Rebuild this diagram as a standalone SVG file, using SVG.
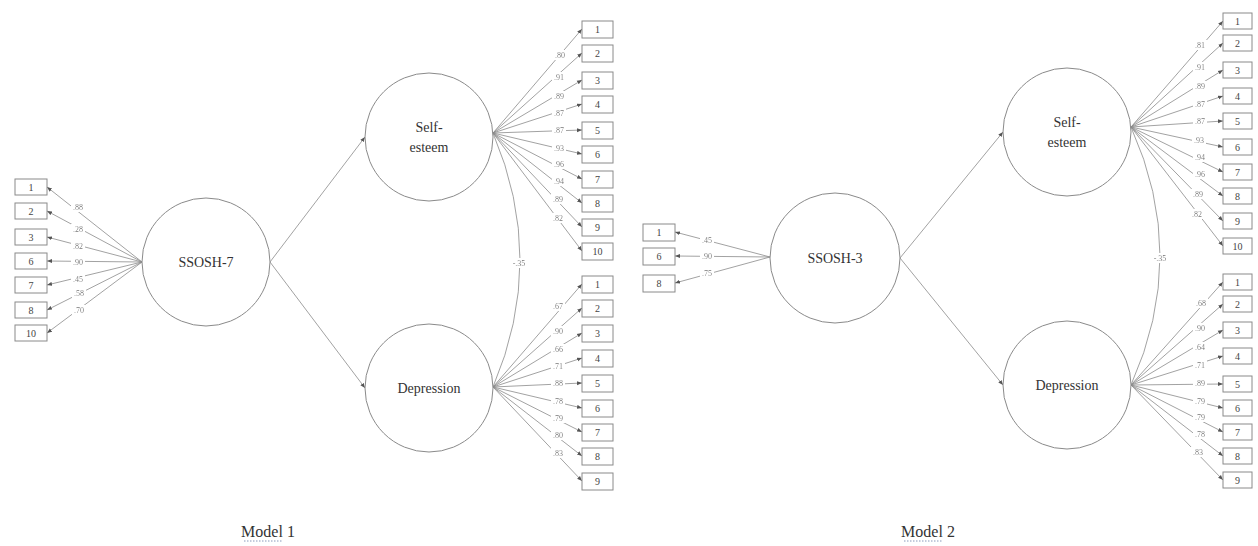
<svg xmlns="http://www.w3.org/2000/svg" width="1258" height="546" viewBox="0 0 1258 546">
<defs>
<marker id="ah" viewBox="0 0 10 10" refX="10" refY="5" markerWidth="5" markerHeight="5" orient="auto" markerUnits="userSpaceOnUse">
<path d="M0,1 L10,5 L0,9 z" fill="#555"/>
</marker>
<filter id="bg" x="-0.15" y="-0.05" width="1.3" height="1.1">
<feFlood flood-color="#ffffff"/>
<feComposite in="SourceGraphic" operator="over"/>
</filter>
<style>
.box{fill:#fff;stroke:#8a8a8a;stroke-width:1}
.lat{fill:#fff;stroke:#8a8a8a;stroke-width:1}
.ln{fill:none;stroke:#8a8a8a;stroke-width:0.8;marker-end:url(#ah)}
.arc{fill:none;stroke:#8a8a8a;stroke-width:0.8}
.lbl{font-family:"Liberation Serif",serif;font-size:8px;fill:#555;text-anchor:middle;dominant-baseline:central;filter:url(#bg)}
.num{font-family:"Liberation Serif",serif;font-size:10px;fill:#444;text-anchor:middle;dominant-baseline:central}
.name{font-family:"Liberation Serif",serif;font-size:14px;fill:#333;text-anchor:middle;dominant-baseline:central}
.cap{font-family:"Liberation Serif",serif;font-size:16px;fill:#333;text-anchor:middle}
.sq{stroke:#8899bb;stroke-width:1;stroke-dasharray:1.5 1.5}
</style>
</defs>

<g id="connectors">
<path class="ln" d="M270,262 L365,137"/>
<path class="ln" d="M270,262 L365,388"/>
<path class="ln" d="M142,262 L47,187"/>
<path class="ln" d="M142,262 L47,211"/>
<path class="ln" d="M142,262 L47,237"/>
<path class="ln" d="M142,262 L47,261"/>
<path class="ln" d="M142,262 L47,285"/>
<path class="ln" d="M142,262 L47,310"/>
<path class="ln" d="M142,262 L47,333"/>
<path class="ln" d="M493,133 L582,29"/>
<path class="ln" d="M493,133 L582,53"/>
<path class="ln" d="M493,133 L582,80"/>
<path class="ln" d="M493,133 L582,104"/>
<path class="ln" d="M493,133 L582,130"/>
<path class="ln" d="M493,133 L582,154"/>
<path class="ln" d="M493,133 L582,179"/>
<path class="ln" d="M493,133 L582,203"/>
<path class="ln" d="M493,133 L582,227"/>
<path class="ln" d="M493,133 L582,251"/>
<path class="ln" d="M493,387 L582,284"/>
<path class="ln" d="M493,387 L582,308"/>
<path class="ln" d="M493,387 L582,333"/>
<path class="ln" d="M493,387 L582,358"/>
<path class="ln" d="M493,387 L582,383"/>
<path class="ln" d="M493,387 L582,408"/>
<path class="ln" d="M493,387 L582,432"/>
<path class="ln" d="M493,387 L582,456"/>
<path class="ln" d="M493,387 L582,481"/>
<path class="arc" d="M493,133 Q547,260 493,387"/>
<path class="ln" d="M900,258 L1003,132"/>
<path class="ln" d="M900,258 L1003,385"/>
<path class="ln" d="M770,257 L675,232"/>
<path class="ln" d="M770,257 L675,256"/>
<path class="ln" d="M770,257 L675,283"/>
<path class="ln" d="M1131,127 L1223,21"/>
<path class="ln" d="M1131,127 L1223,43"/>
<path class="ln" d="M1131,127 L1223,70"/>
<path class="ln" d="M1131,127 L1223,96"/>
<path class="ln" d="M1131,127 L1223,121"/>
<path class="ln" d="M1131,127 L1223,147"/>
<path class="ln" d="M1131,127 L1223,172"/>
<path class="ln" d="M1131,127 L1223,196"/>
<path class="ln" d="M1131,127 L1223,221"/>
<path class="ln" d="M1131,127 L1223,246"/>
<path class="ln" d="M1131,385 L1223,282"/>
<path class="ln" d="M1131,385 L1223,304"/>
<path class="ln" d="M1131,385 L1223,330"/>
<path class="ln" d="M1131,385 L1223,356"/>
<path class="ln" d="M1131,385 L1223,384"/>
<path class="ln" d="M1131,385 L1223,408"/>
<path class="ln" d="M1131,385 L1223,432"/>
<path class="ln" d="M1131,385 L1223,456"/>
<path class="ln" d="M1131,385 L1223,480"/>
<path class="arc" d="M1131,127 Q1189,256 1131,385"/>
</g>

<g id="labels">
<text class="lbl" x="78" y="207">.88</text>
<text class="lbl" x="78" y="229">.28</text>
<text class="lbl" x="78" y="246">.82</text>
<text class="lbl" x="78" y="262">.90</text>
<text class="lbl" x="78" y="279">.45</text>
<text class="lbl" x="79" y="293">.58</text>
<text class="lbl" x="79" y="310">.70</text>
<text class="lbl" x="560" y="55">.80</text>
<text class="lbl" x="559" y="77">.91</text>
<text class="lbl" x="559" y="96">.89</text>
<text class="lbl" x="559" y="113">.87</text>
<text class="lbl" x="559" y="130">.87</text>
<text class="lbl" x="559" y="148">.93</text>
<text class="lbl" x="559" y="164">.96</text>
<text class="lbl" x="559" y="181">.94</text>
<text class="lbl" x="558" y="199">.89</text>
<text class="lbl" x="558" y="218">.82</text>
<text class="lbl" x="558" y="306">.67</text>
<text class="lbl" x="558" y="331">.90</text>
<text class="lbl" x="558" y="349">.66</text>
<text class="lbl" x="558" y="366">.71</text>
<text class="lbl" x="558" y="383">.88</text>
<text class="lbl" x="558" y="401">.78</text>
<text class="lbl" x="558" y="418">.79</text>
<text class="lbl" x="558" y="435">.80</text>
<text class="lbl" x="558" y="453">.83</text>
<text class="lbl" x="519" y="263">-.35</text>
<text class="lbl" x="707" y="240">.45</text>
<text class="lbl" x="707" y="256">.90</text>
<text class="lbl" x="707" y="273">.75</text>
<text class="lbl" x="1200" y="45">.81</text>
<text class="lbl" x="1200" y="67">.91</text>
<text class="lbl" x="1200" y="86">.89</text>
<text class="lbl" x="1200" y="104">.87</text>
<text class="lbl" x="1200" y="121">.87</text>
<text class="lbl" x="1199" y="140">.93</text>
<text class="lbl" x="1200" y="157">.94</text>
<text class="lbl" x="1200" y="174">.96</text>
<text class="lbl" x="1198" y="194">.89</text>
<text class="lbl" x="1197" y="214">.82</text>
<text class="lbl" x="1201" y="303">.68</text>
<text class="lbl" x="1200" y="328">.90</text>
<text class="lbl" x="1200" y="347">.64</text>
<text class="lbl" x="1200" y="365">.71</text>
<text class="lbl" x="1200" y="383">.89</text>
<text class="lbl" x="1200" y="401">.79</text>
<text class="lbl" x="1200" y="417">.79</text>
<text class="lbl" x="1200" y="434">.78</text>
<text class="lbl" x="1198" y="452">.83</text>
<text class="lbl" x="1160" y="258">-.35</text>
</g>

<g id="ssosh7"><circle class="lat" cx="206" cy="262" r="64"/><text class="name" x="206" y="262">SSOSH-7</text></g>
<g id="selfesteem1"><circle class="lat" cx="429" cy="137" r="64"/><text class="name" x="429" y="127">Self-</text><text class="name" x="429" y="147">esteem</text></g>
<g id="depression1"><circle class="lat" cx="429" cy="388" r="64"/><text class="name" x="429" y="388">Depression</text></g>

<g id="m1s1"><rect class="box" x="15" y="179" width="32" height="16"/><text class="num" x="31" y="187">1</text></g>
<g id="m1s2"><rect class="box" x="15" y="203" width="32" height="16"/><text class="num" x="31" y="211">2</text></g>
<g id="m1s3"><rect class="box" x="15" y="229" width="32" height="16"/><text class="num" x="31" y="237">3</text></g>
<g id="m1s6"><rect class="box" x="15" y="253" width="32" height="16"/><text class="num" x="31" y="261">6</text></g>
<g id="m1s7"><rect class="box" x="15" y="277" width="32" height="16"/><text class="num" x="31" y="285">7</text></g>
<g id="m1s8"><rect class="box" x="15" y="302" width="32" height="16"/><text class="num" x="31" y="310">8</text></g>
<g id="m1s10"><rect class="box" x="15" y="325" width="32" height="16"/><text class="num" x="31" y="333">10</text></g>

<g id="m1e1"><rect class="box" x="582" y="21" width="31" height="17"/><text class="num" x="597.5" y="29.5">1</text></g>
<g id="m1e2"><rect class="box" x="582" y="45" width="31" height="17"/><text class="num" x="597.5" y="53.5">2</text></g>
<g id="m1e3"><rect class="box" x="582" y="72" width="31" height="17"/><text class="num" x="597.5" y="80.5">3</text></g>
<g id="m1e4"><rect class="box" x="582" y="96" width="31" height="17"/><text class="num" x="597.5" y="104.5">4</text></g>
<g id="m1e5"><rect class="box" x="582" y="122" width="31" height="17"/><text class="num" x="597.5" y="130.5">5</text></g>
<g id="m1e6"><rect class="box" x="582" y="146" width="31" height="17"/><text class="num" x="597.5" y="154.5">6</text></g>
<g id="m1e7"><rect class="box" x="582" y="171" width="31" height="17"/><text class="num" x="597.5" y="179.5">7</text></g>
<g id="m1e8"><rect class="box" x="582" y="195" width="31" height="17"/><text class="num" x="597.5" y="203.5">8</text></g>
<g id="m1e9"><rect class="box" x="582" y="219" width="31" height="17"/><text class="num" x="597.5" y="227.5">9</text></g>
<g id="m1e10"><rect class="box" x="582" y="243" width="31" height="17"/><text class="num" x="597.5" y="251.5">10</text></g>

<g id="m1d1"><rect class="box" x="582" y="276" width="31" height="17"/><text class="num" x="597.5" y="284.5">1</text></g>
<g id="m1d2"><rect class="box" x="582" y="300" width="31" height="17"/><text class="num" x="597.5" y="308.5">2</text></g>
<g id="m1d3"><rect class="box" x="582" y="325" width="31" height="17"/><text class="num" x="597.5" y="333.5">3</text></g>
<g id="m1d4"><rect class="box" x="582" y="350" width="31" height="17"/><text class="num" x="597.5" y="358.5">4</text></g>
<g id="m1d5"><rect class="box" x="582" y="375" width="31" height="17"/><text class="num" x="597.5" y="383.5">5</text></g>
<g id="m1d6"><rect class="box" x="582" y="400" width="31" height="17"/><text class="num" x="597.5" y="408.5">6</text></g>
<g id="m1d7"><rect class="box" x="582" y="424" width="31" height="17"/><text class="num" x="597.5" y="432.5">7</text></g>
<g id="m1d8"><rect class="box" x="582" y="448" width="31" height="17"/><text class="num" x="597.5" y="456.5">8</text></g>
<g id="m1d9"><rect class="box" x="582" y="473" width="31" height="17"/><text class="num" x="597.5" y="481.5">9</text></g>

<g id="ssosh3"><circle class="lat" cx="835" cy="258" r="65"/><text class="name" x="835" y="258">SSOSH-3</text></g>
<g id="selfesteem2"><circle class="lat" cx="1067" cy="132" r="64"/><text class="name" x="1067" y="122">Self-</text><text class="name" x="1067" y="142">esteem</text></g>
<g id="depression2"><circle class="lat" cx="1067" cy="385" r="64"/><text class="name" x="1067" y="385">Depression</text></g>

<g id="m2s1"><rect class="box" x="643" y="224" width="32" height="17"/><text class="num" x="659" y="232.5">1</text></g>
<g id="m2s6"><rect class="box" x="643" y="248" width="32" height="17"/><text class="num" x="659" y="256.5">6</text></g>
<g id="m2s8"><rect class="box" x="643" y="275" width="32" height="17"/><text class="num" x="659" y="283.5">8</text></g>

<g id="m2e1"><rect class="box" x="1223" y="13" width="29" height="16"/><text class="num" x="1237.5" y="21">1</text></g>
<g id="m2e2"><rect class="box" x="1223" y="35" width="29" height="16"/><text class="num" x="1237.5" y="43">2</text></g>
<g id="m2e3"><rect class="box" x="1223" y="62" width="29" height="16"/><text class="num" x="1237.5" y="70">3</text></g>
<g id="m2e4"><rect class="box" x="1223" y="88" width="29" height="16"/><text class="num" x="1237.5" y="96">4</text></g>
<g id="m2e5"><rect class="box" x="1223" y="113" width="29" height="16"/><text class="num" x="1237.5" y="121">5</text></g>
<g id="m2e6"><rect class="box" x="1223" y="139" width="29" height="16"/><text class="num" x="1237.5" y="147">6</text></g>
<g id="m2e7"><rect class="box" x="1223" y="164" width="29" height="16"/><text class="num" x="1237.5" y="172">7</text></g>
<g id="m2e8"><rect class="box" x="1223" y="188" width="29" height="16"/><text class="num" x="1237.5" y="196">8</text></g>
<g id="m2e9"><rect class="box" x="1223" y="213" width="29" height="16"/><text class="num" x="1237.5" y="221">9</text></g>
<g id="m2e10"><rect class="box" x="1223" y="238" width="29" height="16"/><text class="num" x="1237.5" y="246">10</text></g>

<g id="m2d1"><rect class="box" x="1223" y="274" width="29" height="16"/><text class="num" x="1237.5" y="282">1</text></g>
<g id="m2d2"><rect class="box" x="1223" y="296" width="29" height="16"/><text class="num" x="1237.5" y="304">2</text></g>
<g id="m2d3"><rect class="box" x="1223" y="322" width="29" height="16"/><text class="num" x="1237.5" y="330">3</text></g>
<g id="m2d4"><rect class="box" x="1223" y="348" width="29" height="16"/><text class="num" x="1237.5" y="356">4</text></g>
<g id="m2d5"><rect class="box" x="1223" y="376" width="29" height="16"/><text class="num" x="1237.5" y="384">5</text></g>
<g id="m2d6"><rect class="box" x="1223" y="400" width="29" height="16"/><text class="num" x="1237.5" y="408">6</text></g>
<g id="m2d7"><rect class="box" x="1223" y="424" width="29" height="16"/><text class="num" x="1237.5" y="432">7</text></g>
<g id="m2d8"><rect class="box" x="1223" y="448" width="29" height="16"/><text class="num" x="1237.5" y="456">8</text></g>
<g id="m2d9"><rect class="box" x="1223" y="472" width="29" height="16"/><text class="num" x="1237.5" y="480">9</text></g>

<g id="captions">
<text class="cap" x="268" y="537">Model 1</text>
<line class="sq" x1="244" y1="541" x2="283" y2="541"/>
<text class="cap" x="928" y="537">Model 2</text>
<line class="sq" x1="904" y1="541" x2="943" y2="541"/>
</g>
</svg>
